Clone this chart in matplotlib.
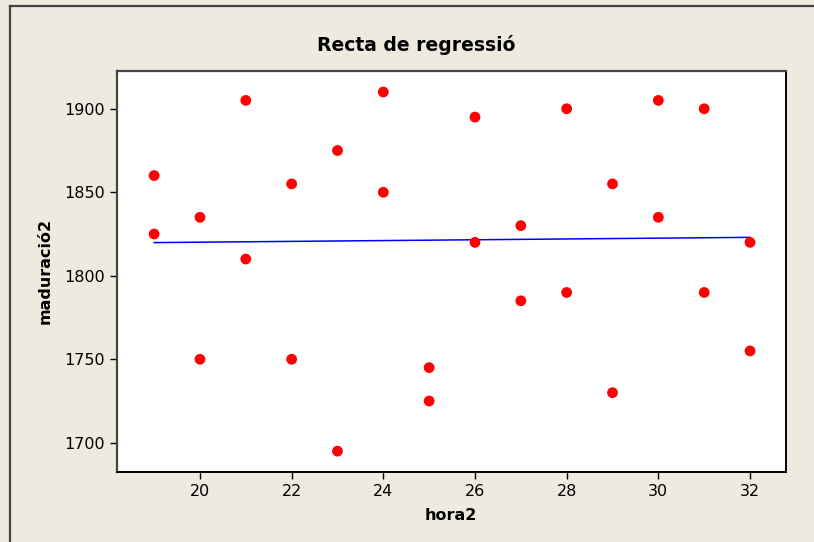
import matplotlib
matplotlib.use('Agg')
import matplotlib.pyplot as plt
from matplotlib.lines import Line2D
import numpy as np

# hora2 vs maduració2
hora2 = [19, 19, 20, 20, 21, 21, 22, 22, 23, 23, 24, 24, 25, 25,
         26, 26, 27, 27, 28, 28, 29, 29, 30, 30, 31, 31, 32, 32]
maduracio2 = [1860, 1825, 1835, 1750, 1905, 1810, 1855, 1750, 1875, 1695, 1910, 1850, 1745, 1725,
              1895, 1820, 1830, 1785, 1900, 1790, 1855, 1730, 1905, 1835, 1900, 1790, 1820, 1755]

xticks = [20, 22, 24, 26, 28, 30, 32]
yticks = [1700, 1750, 1800, 1850, 1900]

W, H = 814, 542
bg = '#EEEAE0'

fig = plt.figure(figsize=(W/100, H/100), dpi=100)
fig.patch.set_facecolor(bg)

# outer frame (top and left only)
fig.add_artist(Line2D([10/W, 1], [1-6/H, 1-6/H], color='#444444', lw=1.6, transform=fig.transFigure))
fig.add_artist(Line2D([10/W, 10/W], [0, 1-6/H], color='#444444', lw=1.6, transform=fig.transFigure))

ax = fig.add_axes([117/W, 1-472/H, (786-117)/W, (472-71)/H])
ax.set_facecolor('white')

x = np.array(hora2)
y = np.array(maduracio2)
ax.scatter(x, y, s=60, color='#FF0000', edgecolors='none', zorder=3)

b, a = np.polyfit(x, y, 1)
xl = np.array([x.min(), x.max()])
ax.plot(xl, a + b*xl, color='#0000FF', lw=1.1, zorder=2)

ax.set_xlim(18.19, 32.785)
ax.set_ylim(1682.5, 1922.6)
ax.set_xticks(xticks)
ax.set_yticks(yticks)
ax.tick_params(direction='out', length=5, width=1, labelsize=11.5, pad=4, colors='black')

for side in ['left', 'top']:
    ax.spines[side].set_color('#444444')
    ax.spines[side].set_linewidth(1.6)
for side in ['right', 'bottom']:
    ax.spines[side].set_color('black')
    ax.spines[side].set_linewidth(1.4)

fig.text(416/W, 1-45/H, 'Recta de regressió', ha='center', va='center',
         fontsize=13.5, fontweight='bold')
fig.text(451/W, 1-515/H, 'hora2', ha='center', va='center',
         fontsize=11.5, fontweight='bold')
fig.text(45/W, 1-271/H, 'maduració2', ha='center', va='center', rotation=90,
         fontsize=11.5, fontweight='bold')

fig.savefig('out.png', dpi=100, facecolor=bg)
